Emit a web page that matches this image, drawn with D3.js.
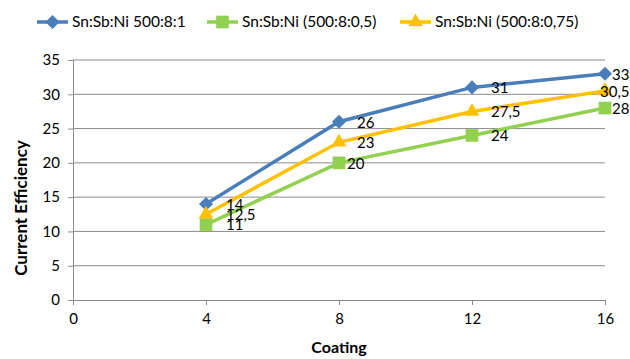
<!DOCTYPE html>
<html>
<head>
<meta charset="utf-8">
<script src="https://cdn.jsdelivr.net/npm/d3@7"></script>
<style>
  body { margin: 0; background: #fff; }
  text { font-family: Lato, "Open Sans", sans-serif; }
</style>
</head>
<body>
<div id="chart"></div>
<script>
// data
const coatings = [4, 8, 12, 16];
const seriesNames = ["Sn:Sb:Ni 500:8:1", "Sn:Sb:Ni (500:8:0,5)", "Sn:Sb:Ni (500:8:0,75)"];
const blueValues = [14, 26, 31, 33];
const greenValues = [11, 20, 24, 28];
const yellowValues = [12.5, 23, 27.5, 30.5];
const xTicks = [0, 4, 8, 12, 16];
const yTicks = [0, 5, 10, 15, 20, 25, 30, 35];

const width = 630, height = 359;
const margin = {top: 60, right: 25, bottom: 59, left: 73};

const svg = d3.select("#chart")
  .append("svg")
    .attr("width", width)
    .attr("height", height);

const x = d3.scaleLinear()
  .domain([0, 16])
  .range([margin.left, width - margin.right]);

const y = d3.scaleLinear()
  .domain([0, 35])
  .range([height - margin.bottom, margin.top]);

// diamond = square turned 45 degrees
const series = [
  {name: seriesNames[0], values: blueValues, color: "#4a7ebb", symbol: d3.symbolSquare, size: 100, rot: 45},
  {name: seriesNames[1], values: greenValues, color: "#92d050", symbol: d3.symbolSquare, size: 160, rot: 0},
  {name: seriesNames[2], values: yellowValues, color: "#ffc000", symbol: d3.symbolTriangle, size: 95, rot: 0}
];

// gridlines
svg.append("g")
  .selectAll("line")
  .data(yTicks.slice(1))
  .join("line")
    .attr("x1", x(0))
    .attr("x2", x(16))
    .attr("y1", d => y(d))
    .attr("y2", d => y(d))
    .attr("stroke", "#8c8c8c")
    .attr("stroke-width", 1);

// axes
const xAxis = svg.append("g")
  .attr("transform", `translate(0,${y(0)})`)
  .call(d3.axisBottom(x).tickValues(xTicks).tickSize(5).tickPadding(8));
const yAxis = svg.append("g")
  .attr("transform", `translate(${x(0)},0)`)
  .call(d3.axisLeft(y).tickValues(yTicks).tickSize(5).tickPadding(8));

[xAxis, yAxis].forEach(g => {
  g.select(".domain").attr("stroke", "#8c8c8c");
  g.selectAll(".tick line").attr("stroke", "#8c8c8c");
  g.selectAll(".tick text")
    .attr("fill", "#000")
    .style("font-size", "15px")
    .style("font-family", "Lato, sans-serif");
});

// axis titles
svg.append("text")
  .attr("x", x(8))
  .attr("y", 353)
  .attr("text-anchor", "middle")
  .style("font-size", "16px")
  .style("font-weight", "bold")
  .text("Coating");

svg.append("text")
  .attr("transform", "translate(27,208) rotate(-90)")
  .attr("text-anchor", "middle")
  .style("font-size", "17px")
  .style("font-weight", "bold")
  .text("Current Efficiency");

const line = d3.line()
  .x((d, i) => x(coatings[i]))
  .y(d => y(d));

// lines
series.forEach(s => {
  svg.append("path")
    .datum(s.values)
    .attr("fill", "none")
    .attr("stroke", s.color)
    .attr("stroke-width", 3.5)
    .attr("d", line);
});

// markers
series.forEach(s => {
  svg.append("g")
    .selectAll("path")
    .data(s.values)
    .join("path")
      .attr("transform", (d, i) => `translate(${x(coatings[i])},${y(d)}) rotate(${s.rot})`)
      .attr("d", d3.symbol().type(s.symbol).size(s.size))
      .attr("fill", s.color);
});

// data labels (horizontal nudges to mimic the reference placement)
const labelDx = [
  [20, 18, 19, 7],
  [20, 8, 19, 7],
  [20, 18, 19, -5]
];
const fmt = v => String(v).replace(".", ",");
series.forEach((s, si) => {
  svg.append("g")
    .selectAll("text")
    .data(s.values)
    .join("text")
      .attr("x", (d, i) => x(coatings[i]) + labelDx[si][i])
      .attr("y", d => y(d) + 2)
      .attr("dominant-baseline", "middle")
      .style("font-size", "15px")
      .text(d => fmt(d));
});

// legend
const legendPos = [37, 207, 400];
const legend = svg.append("g")
  .selectAll("g")
  .data(series)
  .join("g")
    .attr("transform", (d, i) => `translate(${legendPos[i]},22)`);

legend.append("line")
  .attr("x1", 0)
  .attr("x2", 31)
  .attr("stroke", d => d.color)
  .attr("stroke-width", 3.5);

legend.append("path")
  .attr("transform", d => `translate(15.5,0) rotate(${d.rot})`)
  .attr("d", d => d3.symbol().type(d.symbol).size(d.size)())
  .attr("fill", d => d.color);

legend.append("text")
  .attr("x", 35)
  .attr("y", 1)
  .attr("dominant-baseline", "middle")
  .style("font-size", "15.5px")
  .text(d => d.name);
</script>
</body>
</html>
